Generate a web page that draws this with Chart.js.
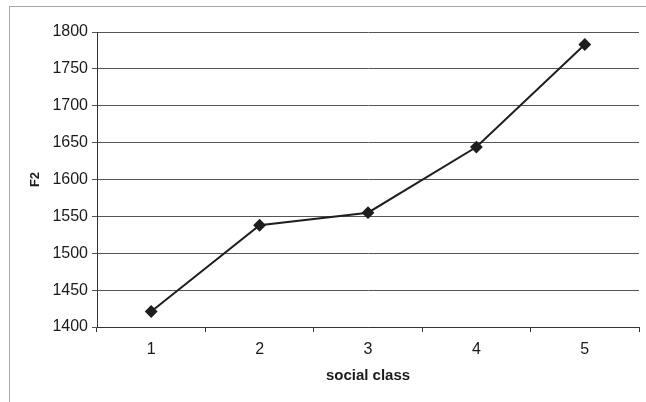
<!DOCTYPE html>
<html>
<head>
<meta charset="utf-8">
<script src="https://cdn.jsdelivr.net/npm/chart.js@4/dist/chart.umd.min.js"></script>
<style>
  html, body { margin: 0; padding: 0; background: #fff; }
  #wrap { position: relative; width: 646px; height: 402px; overflow: hidden; }
  #frame { position: absolute; left: 9px; top: 6px; width: 700px; height: 500px;
           border-left: 1px solid #a8a8a8; border-top: 1px solid #a8a8a8; }
  canvas { position: absolute; left: 0; top: 0; }
</style>
</head>
<body>
<div id="wrap">
  <div id="frame"></div>
  <canvas id="grafico" width="646" height="402"></canvas>
</div>
<script>
// datos
var clases = ['1', '2', '3', '4', '5'];
var valoresF2 = [1421, 1538, 1555, 1644, 1783];
var ejeYMin = 1400;
var ejeYMax = 1800;
var ejeYPaso = 50;

var fuente = 'Arial, "Liberation Sans", sans-serif';

var contexto = document.getElementById('grafico').getContext('2d');
var grafico = new Chart(contexto, {
    type: 'line',
    data: {
        labels: clases,
        datasets: [{
            label: 'F2',
            data: valoresF2,
            borderColor: '#1e1e1e',
            backgroundColor: '#1e1e1e',
            borderWidth: 2,
            pointStyle: 'rectRot',
            pointRadius: 5,
            pointBackgroundColor: '#1e1e1e',
            pointBorderColor: '#1e1e1e',
            tension: 0
        }]
    },
    options: {
        responsive: false,
        animation: false,
        layout: {
            padding: { left: 20, top: 32, right: -3, bottom: 15 }
        },
        plugins: {
            legend: { display: false },
            tooltip: { enabled: false }
        },
        scales: {
            x: {
                offset: true,
                grid: {
                    offset: true,
                    drawOnChartArea: false,
                    drawTicks: true,
                    tickLength: 5,
                    color: '#333'
                },
                border: { color: '#333', width: 1 },
                ticks: {
                    color: '#1a1a1a',
                    padding: 8,
                    font: { family: fuente, size: 16 }
                },
                title: {
                    display: true,
                    text: 'social class',
                    color: '#1a1a1a',
                    padding: { top: 4, bottom: 2 },
                    font: { family: fuente, size: 15, weight: 'bold' }
                },
                afterFit: function (escala) { escala.height = 60; }
            },
            y: {
                min: ejeYMin,
                max: ejeYMax,
                grid: {
                    color: '#555',
                    lineWidth: 1,
                    tickLength: 5
                },
                border: { color: '#333', width: 1 },
                ticks: {
                    stepSize: ejeYPaso,
                    color: '#1a1a1a',
                    padding: 4,
                    font: { family: fuente, size: 16 },
                    callback: function (valor) { return String(valor); }
                },
                title: {
                    display: true,
                    text: 'F2',
                    color: '#1a1a1a',
                    padding: { top: 8, bottom: 0 },
                    font: { family: fuente, size: 13, weight: 'bold' }
                },
                afterFit: function (escala) { escala.width = 77; }
            }
        }
    }
});
</script>
</body>
</html>
